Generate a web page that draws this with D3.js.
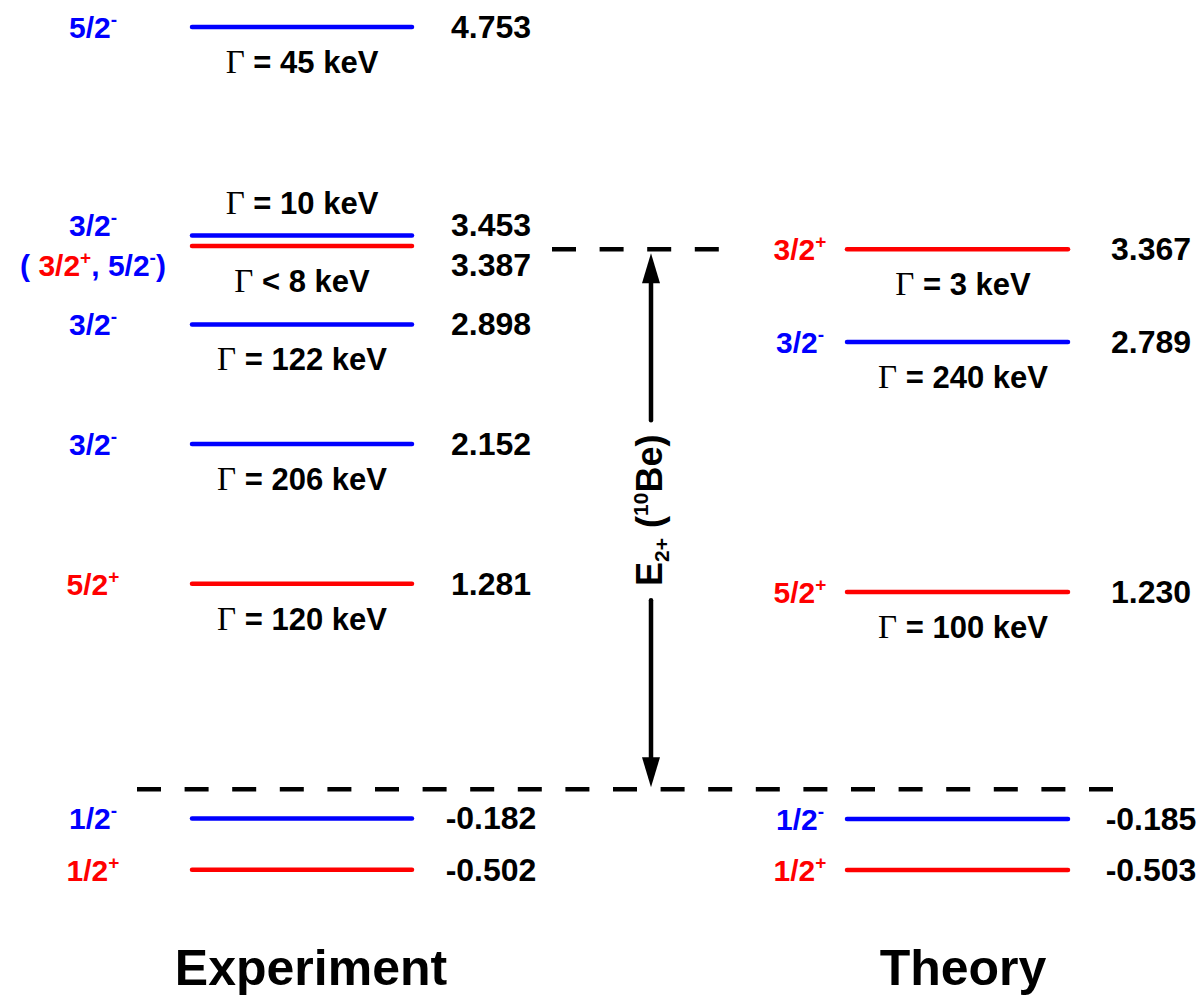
<!DOCTYPE html>
<html>
<head>
<meta charset="utf-8">
<script src="https://cdn.jsdelivr.net/npm/d3@7"></script>
<style>
  body { margin: 0; background: #fff; }
  text { font-family: "Liberation Sans", Arial, sans-serif; font-weight: bold; white-space: pre; }
</style>
</head>
<body>
<div id="chart"></div>
<script>
// level energies (MeV), spins, widths
var expEnergy = [4.753, 3.453, 3.387, 2.898, 2.152, 1.281, -0.182, -0.502];
var expSpin = ["5/2-", "3/2-", "( 3/2+, 5/2-)", "3/2-", "3/2-", "5/2+", "1/2-", "1/2+"];
var expGamma = ["Γ = 45 keV", "Γ = 10 keV", "Γ < 8 keV", "Γ = 122 keV", "Γ = 206 keV", "Γ = 120 keV", "", ""];
var expGammaSide = ["below", "above", "below", "below", "below", "below", "", ""];

var thEnergy = [3.367, 2.789, 1.230, -0.185, -0.503];
var thSpin = ["3/2+", "3/2-", "5/2+", "1/2-", "1/2+"];
var thGamma = ["Γ = 3 keV", "Γ = 240 keV", "Γ = 100 keV", "", ""];
var thGammaSide = ["below", "below", "below", "", ""];

var threshold = 0;       // n + 10Be threshold
var e2plus = 3.367;      // E(2+) of 10Be

var width = 1202;
var height = 996;
var BLUE = "#0000ff";
var RED = "#ff0000";

// column layout
var columns = [
    { name: "Experiment", energy: expEnergy, spin: expSpin, gamma: expGamma, side: expGammaSide,
      x0: 192, x1: 412, spinX: 93, valueX: 491, gammaX: 302, titleX: 311 },
    { name: "Theory", energy: thEnergy, spin: thSpin, gamma: thGamma, side: thGammaSide,
      x0: 847, x1: 1068, spinX: 800, valueX: 1151, gammaX: 963, titleX: 963 }
];

var svg = d3.select("#chart")
    .append("svg")
    .attr("width", width)
    .attr("height", height);

// energy scale
var yScale = d3.scaleLinear()
    .domain([-0.502, 4.753])
    .range([869.8, 26.9]);

function parityColor(p) { return p == "+" ? RED : BLUE; }

// split "3/2+" style labels into tspans with superscript parity
function spinTokens(label) {
    var re = /(\d+\/\d+)([+-])/g, last = 0, m, out = [];
    while ((m = re.exec(label))) {
        if (m.index > last) out.push({ t: label.slice(last, m.index), c: BLUE });
        out.push({ t: m[1], c: parityColor(m[2]) });
        out.push({ t: m[2], c: parityColor(m[2]), sup: true });
        last = re.lastIndex;
    }
    if (last < label.length) out.push({ t: label.slice(last), c: BLUE });
    return out;
}

function lineColor(label) {
    var m = label.match(/\d+\/\d+([+-])/);
    return parityColor(m[1]);
}

columns.forEach(function (col) {
    var ys = col.energy.map(function (e) { return yScale(e); });
    // push apart labels of nearly degenerate levels
    var ly = ys.slice();
    for (var i = 0; i < ys.length - 1; i++) {
        if (ys[i + 1] - ys[i] < 30) {
            var mid = (ys[i] + ys[i + 1]) / 2 + 4;
            ly[i] = mid - 20;
            ly[i + 1] = mid + 20;
        }
    }

    var g = svg.append("g");

    // levels
    g.selectAll("line.level")
        .data(col.energy)
        .enter()
        .append("line")
        .attr("class", "level")
        .attr("x1", col.x0)
        .attr("x2", col.x1)
        .attr("y1", function (d) { return yScale(d); })
        .attr("y2", function (d) { return yScale(d); })
        .attr("stroke", function (d, i) { return lineColor(col.spin[i]); })
        .attr("stroke-width", 4.5)
        .attr("stroke-linecap", "round");

    // energy values
    g.selectAll("text.value")
        .data(col.energy)
        .enter()
        .append("text")
        .attr("class", "value")
        .attr("x", col.valueX)
        .attr("y", function (d, i) { return ly[i] + 11; })
        .attr("text-anchor", "middle")
        .style("font-size", "32px")
        .text(function (d) { return d.toFixed(3); });

    // spin-parity labels
    g.selectAll("text.spin")
        .data(col.spin)
        .enter()
        .append("text")
        .attr("class", "spin")
        .attr("x", col.spinX)
        .attr("y", function (d, i) { return ly[i] + 11; })
        .attr("text-anchor", "middle")
        .style("font-size", "30px")
        .each(function (d) {
            var t = d3.select(this), raised = false;
            spinTokens(d).forEach(function (tok) {
                var s = t.append("tspan").text(tok.t).attr("fill", tok.c);
                if (tok.sup) {
                    s.style("font-size", "19px").attr("dy", -12);
                    raised = true;
                } else if (raised) {
                    s.attr("dy", 12);
                    raised = false;
                }
            });
        });

    // widths
    g.selectAll("text.gamma")
        .data(col.gamma.filter(function (d) { return d != ""; }))
        .enter()
        .append("text")
        .attr("class", "gamma")
        .attr("x", col.gammaX)
        .attr("y", function (d, i) {
            return col.side[i] == "above" ? ys[i] - 21 : ys[i] + 46;
        })
        .attr("text-anchor", "middle")
        .style("font-size", "31px")
        .each(function (d) {
            var t = d3.select(this);
            t.append("tspan")
                .text(d.charAt(0))
                .style("font-family", "'Liberation Serif', 'Times New Roman', serif")
                .style("font-weight", "normal")
                .style("font-size", "33px");
            t.append("tspan").text(d.slice(1));
        });

    // column title
    svg.append("text")
        .attr("x", col.titleX)
        .attr("y", 985)
        .attr("text-anchor", "middle")
        .style("font-size", "50px")
        .text(col.name);
});

// dashed reference lines
var dashed = [
    { e: threshold, x0: 137, x1: 1116 },
    { e: e2plus, x0: 552, x1: 720 }
];
svg.selectAll("line.dash")
    .data(dashed)
    .enter()
    .append("line")
    .attr("class", "dash")
    .attr("x1", function (d) { return d.x0; })
    .attr("x2", function (d) { return d.x1; })
    .attr("y1", function (d) { return yScale(d.e); })
    .attr("y2", function (d) { return yScale(d.e); })
    .attr("stroke", "#000")
    .attr("stroke-width", 4.5)
    .attr("stroke-dasharray", "24 23.6");

// double arrow for E(2+)
var ax = 651;
var yTop = yScale(e2plus) + 4;
var yBot = yScale(threshold) - 2;
var head = 30, halfW = 9;
var textMid = (yTop + yBot) / 2 - 10;

var arrow = svg.append("g");
arrow.append("line")
    .attr("x1", ax).attr("x2", ax)
    .attr("y1", yTop + head - 2).attr("y2", textMid - 90)
    .attr("stroke", "#000").attr("stroke-width", 4.5).attr("stroke-linecap", "round");
arrow.append("line")
    .attr("x1", ax).attr("x2", ax)
    .attr("y1", textMid + 90).attr("y2", yBot - head + 2)
    .attr("stroke", "#000").attr("stroke-width", 4.5).attr("stroke-linecap", "round");
arrow.append("path")
    .attr("d", "M" + ax + "," + yTop + "L" + (ax + halfW) + "," + (yTop + head) +
        "L" + (ax - halfW) + "," + (yTop + head) + "Z")
    .attr("fill", "#000");
arrow.append("path")
    .attr("d", "M" + ax + "," + yBot + "L" + (ax + halfW) + "," + (yBot - head) +
        "L" + (ax - halfW) + "," + (yBot - head) + "Z")
    .attr("fill", "#000");

var lab = svg.append("text")
    .attr("transform", "translate(662," + textMid + ") rotate(-90)")
    .attr("text-anchor", "middle")
    .style("font-size", "36px");
lab.append("tspan").text("E");
lab.append("tspan").text("2+").style("font-size", "21px").attr("dy", 7);
lab.append("tspan").text(" (").attr("dy", -7);
lab.append("tspan").text("10").style("font-size", "21px").attr("dy", -14);
lab.append("tspan").text("Be)").attr("dy", 14);
</script>
</body>
</html>
